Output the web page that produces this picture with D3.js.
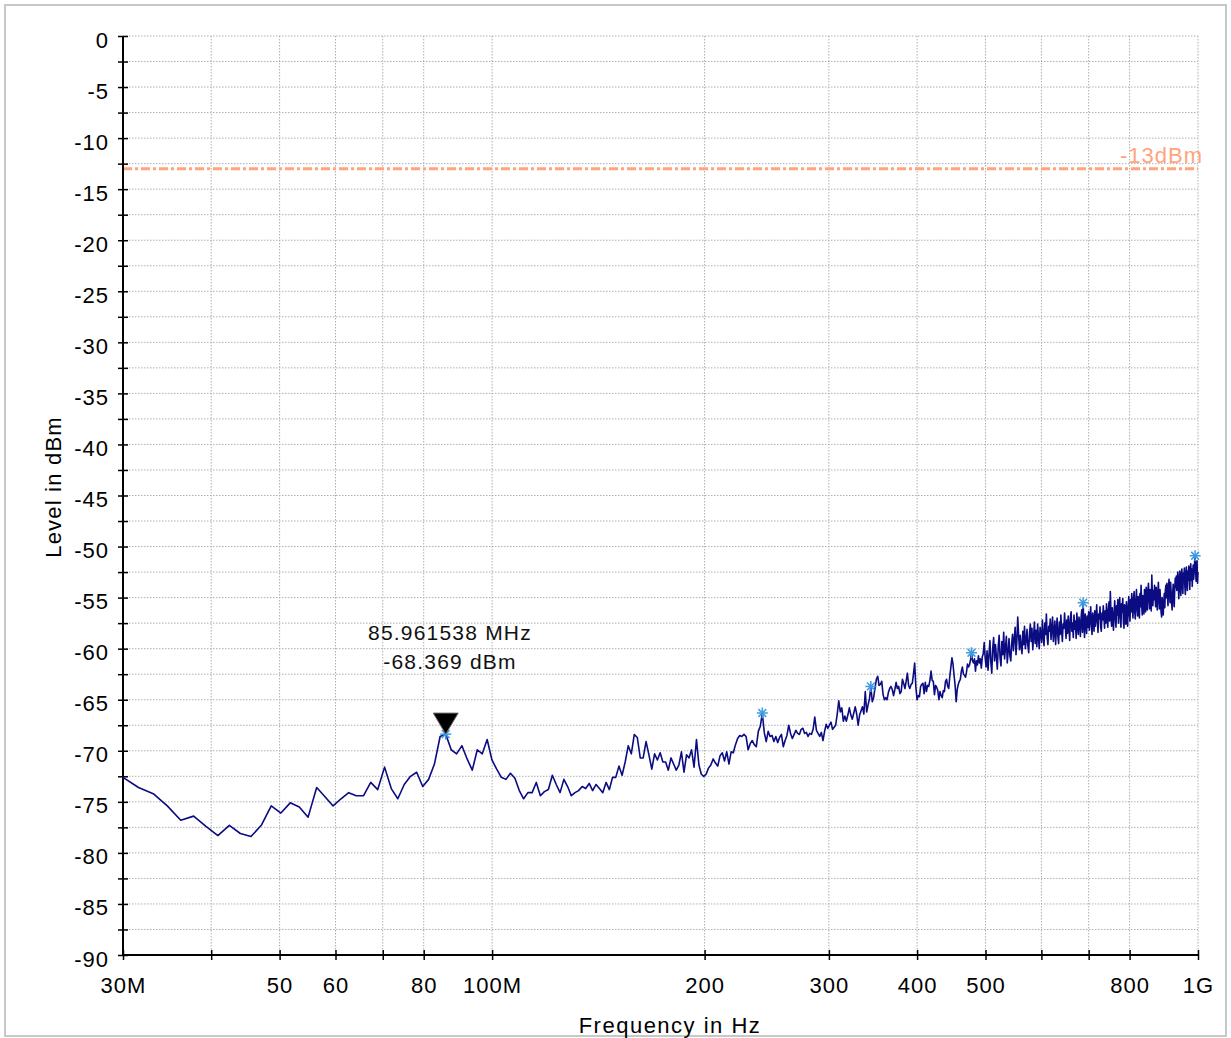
<!DOCTYPE html>
<html><head><meta charset="utf-8">
<script src="https://cdn.jsdelivr.net/npm/d3@7"></script>
<style>
body{margin:0;background:#fff;}
text{font-family:"Liberation Sans",Arial,Helvetica,sans-serif;}
</style>
</head><body>
<svg id="chart" width="1231" height="1038"></svg>
<script>
// ---- sweep definition (MHz) ----
const sweepStartMHz = 30;
const sweepStopMHz = 1000;
const sweepPoints = 625;

// ---- measured trace levels (dBm), one per sweep point ----
const levels = [
-72.6,-73.6,-74.2,-75.4,-76.8,-76.4,-77.4,-78.3,-77.3,-78.1,
-78.4,-77.3,-75.4,-76.1,-75.1,-75.5,-76.5,-73.6,-74.5,-75.4,
-74.7,-74.1,-74.4,-74.4,-73.1,-73.8,-71.6,-73.7,-74.7,-73.3,
-72.5,-72.1,-73.5,-72.8,-71.3,-68.6,-68.369,-69.9,-70.3,-69.5,
-70.8,-71.9,-69.9,-70.3,-68.9,-70.9,-71.8,-72.6,-72.8,-72.2,
-72.7,-73.9,-74.7,-74.1,-74.1,-73.1,-74.4,-74.0,-73.8,-72.4,
-73.3,-74.1,-72.8,-73.5,-74.4,-74.1,-73.9,-73.5,-73.7,-73.2,
-73.9,-73.3,-73.7,-74.1,-73.1,-73.8,-72.6,-72.6,-71.5,-72.4,
-71.1,-69.5,-70.3,-68.4,-68.7,-70.7,-70.7,-69.1,-70.4,-71.8,
-70.3,-70.9,-70.2,-71.1,-71.1,-71.9,-70.7,-71.3,-71.9,-71.4,
-70.1,-72.1,-70.4,-70.7,-69.9,-71.6,-68.9,-71.4,-72.3,-72.5,
-72.3,-71.7,-71.4,-70.8,-71.2,-71.5,-70.5,-70.2,-71.0,-70.1,
-71.3,-70.1,-70.2,-69.4,-68.8,-68.5,-68.6,-68.4,-68.6,-69.9,
-69.3,-69.0,-69.4,-69.6,-68.1,-67.6,-66.3,-68.2,-69.1,-68.1,
-68.6,-68.5,-69.1,-68.6,-69.2,-68.7,-68.4,-69.6,-69.0,-68.5,
-67.5,-68.3,-68.8,-68.4,-68.0,-68.3,-68.4,-67.9,-67.8,-68.3,
-68.2,-68.6,-68.3,-68.4,-67.9,-66.7,-68.0,-68.3,-68.6,-68.2,
-69.0,-68.1,-67.4,-67.8,-67.5,-67.2,-67.9,-67.7,-67.5,-66.4,
-65.1,-66.2,-65.8,-67.1,-66.6,-67.1,-66.5,-65.8,-66.5,-66.9,
-66.3,-65.7,-66.4,-67.5,-66.5,-66.1,-65.7,-66.4,-64.2,-66.2,
-65.5,-64.9,-63.7,-65.2,-64.8,-63.9,-63.0,-62.7,-63.6,-63.5,
-63.2,-64.5,-65.0,-64.8,-65.0,-64.3,-63.9,-63.7,-64.0,-64.6,
-64.0,-63.3,-63.9,-63.7,-64.4,-64.2,-63.0,-63.4,-63.9,-63.2,
-62.4,-63.6,-63.9,-63.5,-63.4,-62.5,-61.4,-63.8,-65.0,-64.6,
-64.7,-63.7,-63.5,-63.4,-64.4,-63.3,-64.2,-63.6,-63.7,-63.1,
-62.2,-63.1,-63.2,-64.5,-63.6,-63.8,-64.1,-65.0,-64.2,-64.6,
-64.8,-64.1,-64.2,-63.2,-63.0,-63.7,-63.9,-62.7,-61.8,-60.9,
-61.5,-62.6,-63.6,-65.2,-64.0,-63.5,-63.2,-63.0,-62.2,-61.8,
-62.5,-62.6,-62.8,-62.3,-61.5,-61.8,-61.6,-61.1,-60.4,-61.2,
-61.4,-61.0,-62.2,-61.2,-61.6,-60.7,-61.4,-61.0,-61.9,-60.8,
-60.5,-59.4,-60.9,-61.8,-60.2,-62.1,-60.7,-59.2,-61.3,-62.4,
-60.0,-58.9,-61.2,-59.6,-60.8,-62.0,-59.8,-58.7,-60.9,-61.7,
-59.3,-60.6,-58.4,-61.0,-59.9,-58.8,-61.4,-60.3,-59.0,-60.7,
-61.2,-59.5,-58.6,-60.2,-59.0,-57.9,-60.6,-59.3,-56.9,-58.6,
-60.1,-58.7,-59.8,-60.5,-58.3,-59.6,-57.8,-60.0,-59.2,-58.1,
-59.7,-60.4,-58.5,-57.6,-59.3,-58.0,-60.1,-58.8,-57.4,-59.5,
-58.2,-59.8,-57.6,-58.9,-60.0,-57.9,-58.5,-59.4,-57.2,-58.8,
-59.7,-57.5,-58.6,-56.6,-58.9,-59.6,-57.8,-58.3,-57.1,-59.1,
-58.0,-56.9,-59.3,-58.4,-57.3,-59.6,-58.1,-57.0,-58.8,-59.5,
-57.4,-58.6,-56.7,-58.2,-59.3,-57.6,-58.0,-56.5,-57.9,-59.0,
-57.2,-58.5,-56.8,-57.9,-59.2,-57.0,-56.4,-58.3,-57.5,-58.9,
-56.7,-58.1,-57.3,-59.0,-56.5,-57.8,-58.6,-56.9,-57.4,-58.8,
-57.0,-56.2,-58.4,-55.5,-57.6,-58.9,-56.6,-57.3,-58.5,-56.8,
-57.9,-56.4,-58.2,-57.0,-55.9,-57.7,-58.6,-56.5,-57.2,-58.3,
-56.3,-57.8,-56.9,-55.7,-57.4,-58.4,-56.6,-57.1,-55.9,-57.9,
-58.3,-56.5,-57.2,-55.8,-56.9,-58.0,-56.3,-57.5,-55.6,-56.8,
-57.9,-56.2,-55.4,-57.3,-54.4,-56.5,-57.8,-56.0,-57.1,-58.2,
-56.4,-55.3,-57.0,-57.9,-55.8,-56.7,-55.2,-57.5,-56.3,-55.0,
-56.8,-57.9,-55.6,-56.4,-55.1,-57.2,-58.0,-55.7,-56.5,-57.6,
-55.4,-56.9,-57.8,-55.8,-54.9,-56.6,-57.3,-55.2,-56.4,-54.6,
-55.7,-57.0,-55.1,-54.4,-56.3,-57.1,-55.3,-54.2,-56.0,-56.8,
-54.9,-55.7,-57.0,-54.6,-55.9,-53.8,-55.6,-56.7,-54.8,-55.4,
-56.6,-54.2,-55.3,-56.4,-54.0,-55.1,-56.2,-54.3,-53.6,-55.0,
-56.1,-54.2,-55.0,-56.3,-52.8,-54.6,-55.8,-54.3,-55.2,-53.8,
-54.9,-55.9,-54.0,-55.1,-56.2,-54.5,-53.5,-55.0,-56.1,-54.2,
-55.3,-56.4,-56.9,-55.0,-55.8,-56.7,-55.4,-54.6,-56.0,-54.3,
-53.8,-55.0,-53.6,-54.7,-55.8,-54.0,-53.2,-54.6,-55.5,-53.5,
-54.4,-55.6,-56.2,-54.6,-53.7,-54.9,-55.9,-54.1,-53.1,-54.0,
-52.9,-54.3,-53.2,-52.5,-54.0,-55.1,-53.4,-52.4,-53.8,-54.8,
-52.9,-52.2,-53.6,-54.6,-52.6,-53.5,-52.1,-53.9,-54.7,-52.8,
-52.0,-53.4,-54.3,-52.4,-53.3,-51.9,-53.1,-54.2,-52.3,-51.7,
-53.3,-52.2,-53.9,-52.6,-51.8,-53.2,-52.5,-51.5,-50.9,-52.2,
-53.4,-52.3,-51.4,-53.6,-52.5
];

// ---- peak list (asterisks) ----
const peakFreqMHz = [85.961538, 241.41, 344.01, 477.69, 687.56, 990.67];
const peakLevels  = [-68.369, -66.3, -63.7, -60.4, -55.5, -50.9];

// ---- marker ----
const markerFreqMHz = 85.961538;
const markerLevel = -68.369;

// ---- limit line ----
const limitLevel = -13;
const limitLabel = "-13dBm";

// ---- axes ----
const yMajorTicks = [0,-5,-10,-15,-20,-25,-30,-35,-40,-45,-50,-55,-60,-65,-70,-75,-80,-85,-90];
const yMinorTicks = [-2.5,-7.5,-12.5,-17.5,-22.5,-27.5,-32.5,-37.5,-42.5,-47.5,-52.5,-57.5,-62.5,-67.5,-72.5,-77.5,-82.5,-87.5];
const xTickMHz = [30,40,50,60,70,80,100,200,300,400,500,600,700,800,1000];
const xTickLabels = ["30M","","50","60","","80","100M","200","300","400","500","","","800","1G"];
const xTitle = "Frequency in Hz";
const yTitle = "Level in dBm";

// ---------------------------------------------------------
const svg = d3.select("#chart");
const plotLeft = 123, plotRight = 1198, plotTop = 36, plotBottom = 955;

const x = d3.scaleLog().domain([30e6, 1e9]).range([plotLeft, plotRight]);
const y = d3.scaleLinear().domain([-90, 0]).range([plotBottom, plotTop]);

// outer frame
svg.append("rect").attr("x",5).attr("y",5).attr("width",1221).attr("height",1031)
  .attr("fill","#fff").attr("stroke","#c8c8c8").attr("stroke-width",2);

const grid = svg.append("g").attr("stroke","#b0b0b0").attr("stroke-width",1).attr("stroke-dasharray","1.5,1.5");
const allY = yMajorTicks.concat(yMinorTicks).filter(d => d > -90);
grid.selectAll("line.h").data(allY).join("line")
  .attr("x1", plotLeft).attr("x2", plotRight).attr("y1", d => y(d)).attr("y2", d => y(d));
grid.selectAll("line.v").data(xTickMHz.filter(d => d > 30)).join("line")
  .attr("y1", plotTop).attr("y2", plotBottom).attr("x1", d => x(d*1e6)).attr("x2", d => x(d*1e6));

// limit line
svg.append("line").attr("x1", plotLeft).attr("x2", plotRight)
  .attr("y1", y(limitLevel)).attr("y2", y(limitLevel))
  .attr("stroke","#ffa47c").attr("stroke-width",3).attr("stroke-dasharray","9,3,3,3");
svg.append("text").attr("x", 1203).attr("y", y(limitLevel) - 6)
  .attr("text-anchor","end").attr("fill","#ffa47c").attr("font-size",22)
  .attr("letter-spacing","1px").text(limitLabel);

// axes
const tickFont = 22;
const yAxis = d3.axisLeft(y).tickValues(yMajorTicks.concat(yMinorTicks))
  .tickFormat(d => yMajorTicks.includes(d) ? String(d) : "").tickSize(5).tickPadding(9);
const gy = svg.append("g").attr("transform",`translate(${plotLeft},0)`).call(yAxis);
gy.select(".domain").attr("stroke","#000").attr("stroke-width",2).attr("d", `M0,${plotTop}V${plotBottom}`);
gy.selectAll(".tick line").attr("x1",5).attr("x2",-5).attr("stroke","#000").attr("stroke-width",1.5);
gy.selectAll(".tick text").attr("font-size",tickFont).attr("fill","#000").attr("dy","0.5em")
  .attr("font-family",'"Liberation Sans",Arial,sans-serif').attr("letter-spacing","1px");

const xAxis = d3.axisBottom(x).tickValues(xTickMHz.map(d => d*1e6))
  .tickFormat((d,i) => xTickLabels[i]).tickSize(5).tickPadding(22);
const gx = svg.append("g").attr("transform",`translate(0,${plotBottom})`).call(xAxis);
gx.select(".domain").attr("stroke","#000").attr("stroke-width",2).attr("d", `M${plotLeft},0H${plotRight}`);
gx.selectAll(".tick line").attr("y1",-5).attr("y2",5).attr("stroke","#000").attr("stroke-width",1.5);
gx.selectAll(".tick text").attr("font-size",tickFont).attr("fill","#000").attr("y",22)
  .attr("font-family",'"Liberation Sans",Arial,sans-serif').attr("letter-spacing","1px");

// axis titles
svg.append("text").attr("x", 670).attr("y", 1033).attr("text-anchor","middle")
  .attr("font-size",22).attr("letter-spacing","1.5px").attr("fill","#000").text(xTitle);
svg.append("text").attr("transform","translate(61,487) rotate(-90)").attr("text-anchor","middle")
  .attr("font-size",22).attr("letter-spacing","1.2px").attr("fill","#000").text(yTitle);

// trace
const step = (sweepStopMHz - sweepStartMHz) / (sweepPoints - 1);
const trace = levels.map((v,i) => [(sweepStartMHz + i*step)*1e6, v]);
svg.append("path").datum(trace)
  .attr("fill","none").attr("stroke","#0b0b82").attr("stroke-width",1.6).attr("stroke-linejoin","round")
  .attr("d", d3.line().x(d => x(d[0])).y(d => y(d[1])));

// peak asterisks
const pk = svg.append("g").attr("stroke","#3d9be0").attr("stroke-width",1.5);
peakFreqMHz.forEach((f,i) => {
  const cx = x(f*1e6), cy = y(peakLevels[i]), r = 5.5;
  [0,45,90,135].forEach(a => {
    const rad = a*Math.PI/180;
    pk.append("line").attr("x1", cx - r*Math.cos(rad)).attr("y1", cy - r*Math.sin(rad))
      .attr("x2", cx + r*Math.cos(rad)).attr("y2", cy + r*Math.sin(rad));
  });
});

// marker triangle
const mx = x(markerFreqMHz*1e6), my = y(markerLevel);
svg.append("path").attr("d", `M${mx-12.5},${my-21}L${mx+12.5},${my-21}L${mx},${my}Z`)
  .attr("fill","#000").attr("stroke","#666").attr("stroke-width",1);

// marker label
svg.append("text").attr("x", 450).attr("y", 640).attr("text-anchor","middle")
  .attr("font-size",21).attr("letter-spacing","1.2px").attr("fill","#111")
  .text(`${markerFreqMHz.toFixed(6)} MHz`);
svg.append("text").attr("x", 450).attr("y", 669).attr("text-anchor","middle")
  .attr("font-size",21).attr("letter-spacing","1.2px").attr("fill","#111")
  .text(`${markerLevel.toFixed(3)} dBm`);
</script>
</body></html>
